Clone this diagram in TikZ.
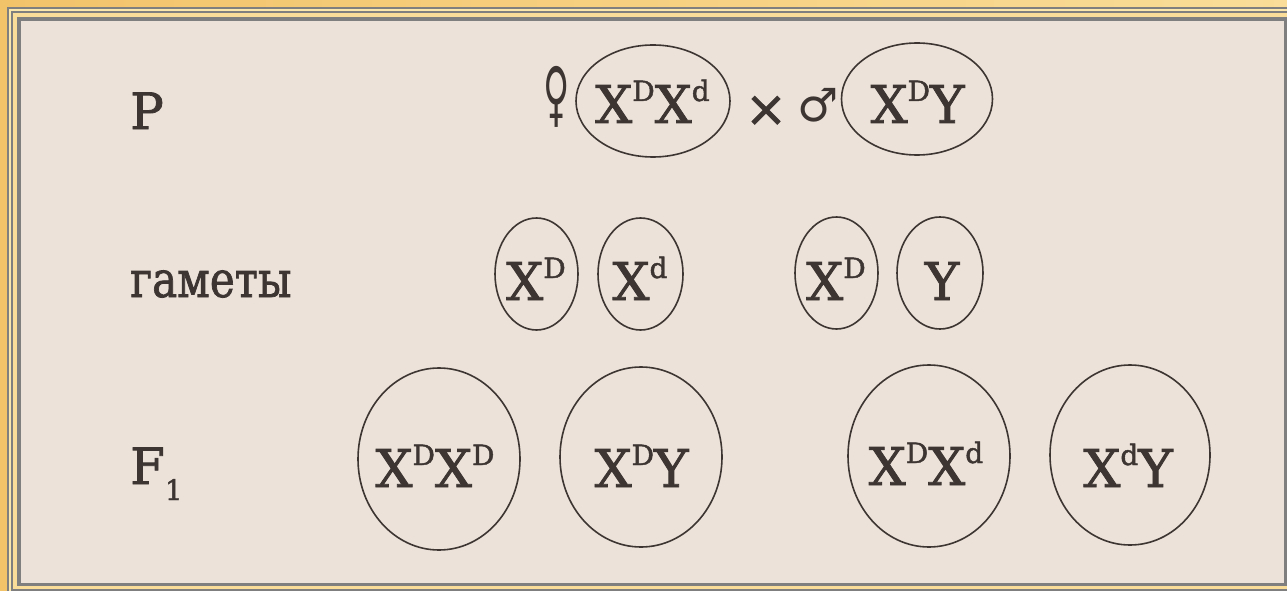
\documentclass[tikz,border=0pt]{standalone}
\usepackage{fontspec}
\setmainfont{DejaVu Serif}
\newfontfamily\gfont{DejaVu Serif}[FakeBold=1.6]
\newfontfamily\symfont{DejaVu Sans}
\newfontfamily\symbfont{DejaVu Sans}[FakeBold=1.5]
\usetikzlibrary{shapes.geometric}
\definecolor{ink}{HTML}{3C3531}
\definecolor{rim}{HTML}{7F7F7F}
\definecolor{paper}{HTML}{ECE2DA}
\definecolor{goldA}{HTML}{F3C36A}
\definecolor{goldB}{HTML}{F9DD98}
\definecolor{goldC}{HTML}{FBE6AC}
\newcommand\sps[1]{\raisebox{22pt}{\fontsize{28}{28}\selectfont #1}}
\newcommand\sbs[1]{\raisebox{-16pt}{\fontsize{28}{28}\selectfont #1}}
\begin{document}
\begin{tikzpicture}[x=1pt,y=-1pt,
 ell/.style={draw=ink, line width=1.6pt, ellipse, inner sep=0pt},
 gene/.style={text=ink, font=\gfont\fontsize{52}{60}\selectfont, inner sep=0pt, anchor=base},
 lbl/.style={text=ink, font=\gfont\fontsize{50}{60}\selectfont, inner sep=0pt, anchor=base west},
 sym/.style={text=ink, font=\symfont\fontsize{48}{56}\selectfont, inner sep=0pt}]
\useasboundingbox (0,0) rectangle (1287,591);
\clip (0,0) rectangle (1287,591);
\shade[left color=goldA, right color=goldB] (0,0) rectangle (1287,591);
% frame
\draw[rim, line width=2.2pt, fill=goldC] (8,8) rectangle (1300,600);
\draw[rim, line width=2pt, fill=goldB] (12,12) rectangle (1291,589.5);
\draw[rim, line width=3.5pt, fill=paper] (19,19) rectangle (1285.5,584.5);
% labels
\node[lbl] (lp) at (130,129) {P};
\node[lbl] (lg) at (130,297) {\scalebox{0.84}[1]{гаметы}};
\node[lbl] (lf) at (130,484) {F\sbs{1}};
% parents
\node[sym, font=\symfont\fontsize{46}{52}\selectfont] (fem) at (557,97) {\scalebox{0.78}[1.55]{♀}};
\node[ell, minimum width=154pt, minimum height=112pt] (pf) at (653,101) {};
\node[gene] (tpf) at (652.5,123) {X\sps{D}X\sps{d}};
\node[sym, font=\symbfont\fontsize{50}{56}\selectfont] (cross) at (766,111) {×};
\node[sym, font=\symfont\fontsize{46}{52}\selectfont] (mal) at (818,105) {♂};
\node[ell, minimum width=151pt, minimum height=112pt] (pm) at (917,99) {};
\node[gene] (tpm) at (917.5,123) {X\sps{D}Y};
% gametes
\node[ell, minimum width=83pt, minimum height=112pt] (ga) at (536.5,274) {};
\node[gene] (tga) at (536,300) {X\sps{D}};
\node[ell, minimum width=85pt, minimum height=112pt] (gb) at (640.5,274) {};
\node[gene] (tgb) at (640,300) {X\sps{d}};
\node[ell, minimum width=83pt, minimum height=112pt] (gc) at (836.5,273) {};
\node[gene] (tgc) at (836,300) {X\sps{D}};
\node[ell, minimum width=86pt, minimum height=112pt] (gd) at (940,273) {};
\node[gene] (tgd) at (942,300) {Y};
% F1
\node[ell, minimum width=162pt, minimum height=182pt] (fa) at (439,459) {};
\node[gene] (tfa) at (435,487) {X\sps{D}X\sps{D}};
\node[ell, minimum width=162pt, minimum height=180pt] (fb) at (641,457) {};
\node[gene] (tfb) at (641.5,487) {X\sps{D}Y};
\node[ell, minimum width=162pt, minimum height=182pt] (fc) at (929,456) {};
\node[gene] (tfc) at (926,485) {X\sps{D}X\sps{d}};
\node[ell, minimum width=160pt, minimum height=180pt] (fd) at (1130,455) {};
\node[gene] (tfd) at (1128,487) {X\sps{d}Y};
\end{tikzpicture}
\end{document}
